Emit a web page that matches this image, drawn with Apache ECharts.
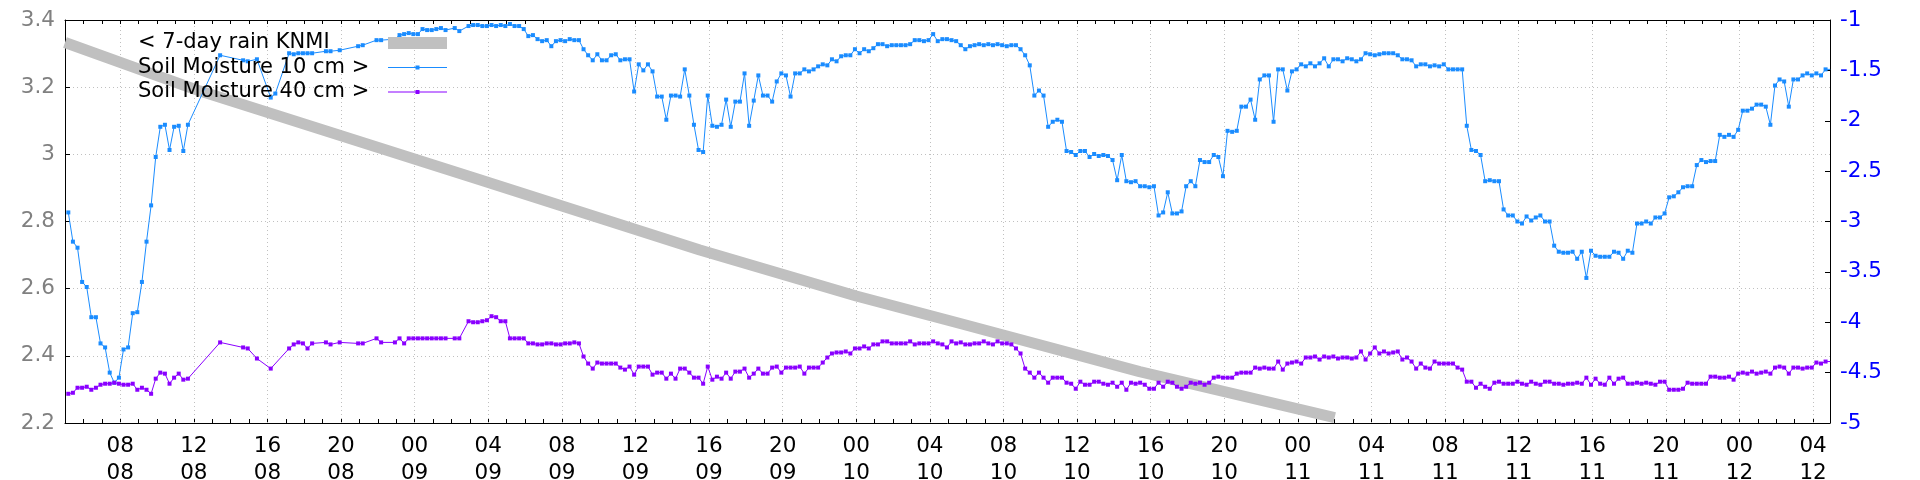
<!DOCTYPE html>
<html><head><meta charset="utf-8">
<script src="https://cdn.jsdelivr.net/npm/echarts@6/dist/echarts.min.js"></script>
<style>html,body{margin:0;padding:0;background:#fff}#c{width:1920px;height:480px}</style>
</head><body><div id="c"></div>
<script>
// time in hours after day 08 00:00; samples every 15 min
const t0 = 5.18;
const stepH = 0.25;
const soil10 = [
-2.91,-3.20,-3.26,-3.60,-3.65,-3.95,-3.95,-4.21,-4.25,-4.50,
-4.60,-4.55,-4.27,-4.25,-3.91,-3.90,-3.60,-3.20,-2.84,-2.36,
-2.06,-2.04,-2.29,-2.06,-2.05,-2.30,-2.04,null,null,null,
null,null,null,-1.35,null,null,null,null,-1.40,-1.41,
null,-1.39,null,null,-1.77,-1.73,null,null,-1.33,-1.34,
-1.33,-1.33,-1.33,-1.33,null,null,-1.31,-1.31,null,-1.30,
null,null,null,-1.26,-1.25,null,null,-1.20,-1.20,null,
null,-1.19,-1.15,-1.14,-1.13,-1.14,-1.14,-1.09,-1.10,-1.10,
-1.09,-1.08,-1.10,null,-1.08,-1.11,null,-1.06,-1.05,-1.05,
-1.06,-1.06,-1.05,-1.06,-1.05,-1.06,-1.04,-1.06,-1.06,-1.09,
-1.16,-1.15,-1.19,-1.21,-1.20,-1.26,-1.21,-1.20,-1.21,-1.19,
-1.20,-1.20,-1.29,-1.35,-1.40,-1.34,-1.40,-1.40,-1.35,-1.34,
-1.40,-1.39,-1.39,-1.71,-1.44,-1.50,-1.44,-1.51,-1.76,-1.76,
-1.99,-1.75,-1.75,-1.76,-1.49,-1.75,-2.04,-2.29,-2.31,-1.75,
-2.05,-2.06,-2.04,-1.79,-2.06,-1.81,-1.81,-1.53,-2.05,-1.80,
-1.55,-1.75,-1.75,-1.81,-1.61,-1.53,-1.55,-1.76,-1.53,-1.53,
-1.49,-1.51,-1.49,-1.46,-1.44,-1.45,-1.39,-1.41,-1.36,-1.35,
-1.35,-1.29,-1.33,-1.29,-1.31,-1.28,-1.24,-1.24,-1.26,-1.25,
-1.25,-1.25,-1.25,-1.24,-1.20,-1.20,-1.21,-1.20,-1.14,-1.21,
-1.19,-1.19,-1.20,-1.21,-1.25,-1.29,-1.26,-1.25,-1.24,-1.25,
-1.24,-1.25,-1.24,-1.25,-1.26,-1.25,-1.25,-1.29,-1.35,-1.45,
-1.75,-1.70,-1.75,-2.06,-2.01,-1.99,-2.01,-2.30,-2.31,-2.34,
-2.30,-2.30,-2.36,-2.33,-2.35,-2.34,-2.35,-2.39,-2.59,-2.34,
-2.60,-2.61,-2.60,-2.65,-2.65,-2.66,-2.65,-2.94,-2.91,-2.71,
-2.92,-2.92,-2.90,-2.65,-2.60,-2.65,-2.39,-2.41,-2.41,-2.34,
-2.36,-2.55,-2.10,-2.11,-2.10,-1.86,-1.86,-1.79,-1.99,-1.59,
-1.55,-1.55,-2.01,-1.49,-1.49,-1.70,-1.51,-1.49,-1.44,-1.46,
-1.43,-1.46,-1.43,-1.38,-1.46,-1.39,-1.39,-1.41,-1.38,-1.39,
-1.41,-1.39,-1.33,-1.34,-1.35,-1.34,-1.33,-1.33,-1.33,-1.35,
-1.39,-1.39,-1.40,-1.46,-1.44,-1.44,-1.46,-1.45,-1.46,-1.44,
-1.49,-1.49,-1.49,-1.49,-2.05,-2.29,-2.30,-2.34,-2.60,-2.59,
-2.60,-2.60,-2.88,-2.94,-2.94,-3.00,-3.02,-2.95,-2.99,-2.96,
-2.94,-3.00,-3.00,-3.24,-3.30,-3.31,-3.31,-3.30,-3.37,-3.30,
-3.56,-3.29,-3.34,-3.35,-3.35,-3.35,-3.30,-3.31,-3.37,-3.29,
-3.31,-3.02,-3.02,-3.00,-3.02,-2.96,-2.96,-2.92,-2.76,-2.75,
-2.71,-2.66,-2.65,-2.65,-2.44,-2.39,-2.41,-2.40,-2.40,-2.14,
-2.16,-2.14,-2.16,-2.09,-1.90,-1.90,-1.88,-1.84,-1.84,-1.86,
-2.04,-1.65,-1.59,-1.61,-1.86,-1.59,-1.59,-1.55,-1.53,-1.55,
-1.53,-1.55,-1.49,-1.49
];
const soil40 = [
-4.71,-4.70,-4.65,-4.65,-4.64,-4.67,-4.65,-4.62,-4.61,-4.61,
-4.60,-4.61,-4.62,-4.62,-4.61,-4.67,-4.65,-4.67,-4.71,-4.56,
-4.50,-4.51,-4.61,-4.55,-4.51,-4.57,-4.56,null,null,null,
null,null,null,-4.20,null,null,null,null,-4.25,-4.26,
null,-4.36,null,null,-4.46,null,null,null,-4.26,-4.22,
-4.20,-4.21,-4.26,-4.21,null,null,-4.20,-4.22,null,-4.20,
null,null,null,-4.21,-4.21,null,null,-4.16,-4.20,null,
null,-4.20,-4.16,-4.21,-4.16,-4.16,-4.16,-4.16,-4.16,-4.16,
-4.16,-4.16,-4.16,null,-4.16,-4.16,null,-3.99,-4.00,-4.00,
-3.99,-3.98,-3.94,-3.95,-3.99,-3.99,-4.16,-4.16,-4.16,-4.16,
-4.21,-4.21,-4.22,-4.22,-4.21,-4.21,-4.22,-4.22,-4.21,-4.21,
-4.20,-4.21,-4.34,-4.41,-4.46,-4.40,-4.41,-4.41,-4.41,-4.41,
-4.45,-4.47,-4.44,-4.52,-4.44,-4.44,-4.44,-4.52,-4.50,-4.50,
-4.56,-4.51,-4.56,-4.46,-4.46,-4.50,-4.55,-4.55,-4.61,-4.44,
-4.57,-4.54,-4.56,-4.50,-4.56,-4.49,-4.49,-4.46,-4.55,-4.51,
-4.46,-4.51,-4.51,-4.45,-4.44,-4.50,-4.45,-4.45,-4.45,-4.44,
-4.51,-4.45,-4.45,-4.45,-4.40,-4.35,-4.31,-4.30,-4.30,-4.29,
-4.31,-4.26,-4.26,-4.24,-4.26,-4.22,-4.22,-4.19,-4.19,-4.21,
-4.21,-4.21,-4.21,-4.19,-4.22,-4.21,-4.21,-4.21,-4.19,-4.21,
-4.22,-4.25,-4.19,-4.21,-4.20,-4.22,-4.22,-4.21,-4.21,-4.19,
-4.21,-4.22,-4.19,-4.21,-4.21,-4.22,-4.26,-4.31,-4.46,-4.50,
-4.55,-4.50,-4.55,-4.60,-4.55,-4.55,-4.55,-4.60,-4.61,-4.66,
-4.59,-4.62,-4.62,-4.59,-4.59,-4.61,-4.62,-4.60,-4.64,-4.60,
-4.67,-4.60,-4.61,-4.60,-4.62,-4.66,-4.66,-4.60,-4.64,-4.59,
-4.60,-4.64,-4.66,-4.64,-4.60,-4.61,-4.60,-4.62,-4.60,-4.55,
-4.54,-4.55,-4.55,-4.55,-4.51,-4.50,-4.50,-4.50,-4.45,-4.46,
-4.45,-4.46,-4.46,-4.39,-4.47,-4.41,-4.40,-4.39,-4.41,-4.35,
-4.35,-4.34,-4.37,-4.34,-4.35,-4.34,-4.36,-4.35,-4.35,-4.36,
-4.35,-4.29,-4.37,-4.31,-4.25,-4.31,-4.29,-4.31,-4.30,-4.29,
-4.37,-4.35,-4.39,-4.46,-4.41,-4.45,-4.46,-4.39,-4.41,-4.41,
-4.41,-4.41,-4.45,-4.47,-4.59,-4.59,-4.65,-4.61,-4.64,-4.66,
-4.60,-4.59,-4.61,-4.61,-4.61,-4.59,-4.61,-4.62,-4.59,-4.61,
-4.62,-4.59,-4.59,-4.61,-4.61,-4.62,-4.61,-4.61,-4.60,-4.61,
-4.55,-4.62,-4.56,-4.61,-4.62,-4.55,-4.61,-4.56,-4.55,-4.61,
-4.61,-4.60,-4.61,-4.60,-4.61,-4.62,-4.59,-4.59,-4.67,-4.67,
-4.67,-4.66,-4.60,-4.61,-4.61,-4.61,-4.61,-4.54,-4.54,-4.55,
-4.55,-4.54,-4.57,-4.51,-4.50,-4.51,-4.49,-4.51,-4.50,-4.49,
-4.51,-4.45,-4.44,-4.45,-4.51,-4.45,-4.45,-4.46,-4.45,-4.45,
-4.40,-4.41,-4.39,-4.39
];
const rainT = [5.0, 12.3, 27.5, 39.5, 48.0, 53.6, 63.4, 74.0];
const rainV = [3.333, 3.189, 2.925, 2.715, 2.578, 2.497, 2.353, 2.216];
const labelHours = [8,12,16,20,24,28,32,36,40,44,48,52,56,60,64,68,72,76,80,84,88,92,96,100];
const xMin = 5, xMax = 100.92;

const hourTicks = [];
for (let h = 6; h <= 100; h++) hourTicks.push(h);

function toPairs(arr) {
  const out = [];
  arr.forEach((v, i) => { if (v !== null) out.push([+(t0 + i * stepH).toFixed(3), v]); });
  return out;
}
const pad = n => (n < 10 ? '0' : '') + n;
const FONT = 'DejaVu Sans';
const FS = 21.5;
const C10 = '#1a8cff', C40 = '#8a00ff', CR = '#c0c0c0';
const ICON_LINE = 'path://M0,1.5L59,1.5L59,2.5L0,2.5Z M27.5,0L31.5,0L31.5,4L27.5,4Z';

const chart = echarts.init(document.getElementById('c'), null, {renderer: 'canvas'});
chart.setOption({
  animation: false,
  backgroundColor: '#fff',
  grid: {left: 65, right: 90, top: 20, bottom: 57, containLabel: false, outerBoundsMode: 'none'},
  legend: {
    orient: 'vertical', left: 138, top: 31, align: 'right',
    itemWidth: 59, itemHeight: 12, itemGap: 0.5, selectedMode: false, padding: 0,
    formatter: n => '{a|' + n + '}',
    itemStyle: {borderWidth: 0},
    textStyle: {fontFamily: FONT, fontSize: 21, color: '#000', lineHeight: 24,
      rich: {a: {width: 245, align: 'left', fontFamily: FONT, fontSize: 21, color: '#000', lineHeight: 24}}},
    data: [
      {name: '< 7-day rain KNMI', icon: 'rect'},
      {name: 'Soil Moisture 10 cm >', icon: ICON_LINE},
      {name: 'Soil Moisture 40 cm >', icon: ICON_LINE}
    ]
  },
  xAxis: [
    {type: 'value', min: xMin, max: xMax, position: 'bottom',
     axisLine: {show: true, onZero: false, lineStyle: {color: '#000', width: 1}},
     axisTick: {show: true, inside: true, length: 4, customValues: hourTicks, lineStyle: {color: '#000', width: 1}},
     axisLabel: {show: true, customValues: labelHours, color: '#000', fontFamily: FONT, fontSize: FS, lineHeight: 27, margin: 10,
       formatter: v => { const r = Math.round(v); return pad(r % 24) + '\n' + pad(8 + Math.floor(r / 24)); }},
     splitLine: {show: false}},
    {type: 'value', min: xMin, max: xMax, position: 'bottom',
     axisLine: {show: false},
     axisTick: {show: true, inside: true, length: 403, customValues: labelHours, lineStyle: {color: '#c0c0c0', width: 1, type: [1, 3]}},
     axisLabel: {show: false}, splitLine: {show: false}},
    {type: 'value', min: xMin, max: xMax, position: 'top',
     axisLine: {show: true, onZero: false, lineStyle: {color: '#000', width: 1}},
     axisTick: {show: true, inside: true, length: 4, customValues: hourTicks, lineStyle: {color: '#000', width: 1}},
     axisLabel: {show: false}, splitLine: {show: false}}
  ],
  yAxis: [
    {type: 'value', min: 2.2, max: 3.4, interval: 0.2, position: 'left',
     axisLine: {show: true, onZero: false, lineStyle: {color: '#000', width: 1}},
     axisTick: {show: true, inside: true, length: 5, lineStyle: {color: '#000'}},
     axisLabel: {color: '#808080', fontFamily: FONT, fontSize: FS, margin: 10},
     splitLine: {show: true, showMinLine: false, showMaxLine: false, lineStyle: {color: '#c0c0c0', width: 1, type: [1, 3]}}},
    {type: 'value', min: -5, max: -1, interval: 0.5, position: 'right',
     axisLine: {show: true, onZero: false, lineStyle: {color: '#000', width: 1}},
     axisTick: {show: true, inside: true, length: 5, lineStyle: {color: '#000'}},
     axisLabel: {color: '#0000ff', fontFamily: FONT, fontSize: FS, margin: 10},
     splitLine: {show: false}}
  ],
  series: [
    {name: '< 7-day rain KNMI', type: 'line', xAxisIndex: 0, yAxisIndex: 0, z: 1,
     data: rainT.map((t, i) => [t, rainV[i]]), symbol: 'none', showSymbol: false, silent: true,
     lineStyle: {color: CR, width: 11, cap: 'butt', join: 'round'}, itemStyle: {color: CR}},
    {name: 'Soil Moisture 10 cm >', type: 'line', xAxisIndex: 0, yAxisIndex: 1, z: 3,
     data: toPairs(soil10), symbol: 'rect', symbolSize: 4, showSymbol: true, silent: true,
     lineStyle: {color: C10, width: 1}, itemStyle: {color: C10, borderWidth: 0}},
    {name: 'Soil Moisture 40 cm >', type: 'line', xAxisIndex: 0, yAxisIndex: 1, z: 3,
     data: toPairs(soil40), symbol: 'rect', symbolSize: 4, showSymbol: true, silent: true,
     lineStyle: {color: C40, width: 1}, itemStyle: {color: C40, borderWidth: 0}}
  ]
});
</script>
</body></html>
